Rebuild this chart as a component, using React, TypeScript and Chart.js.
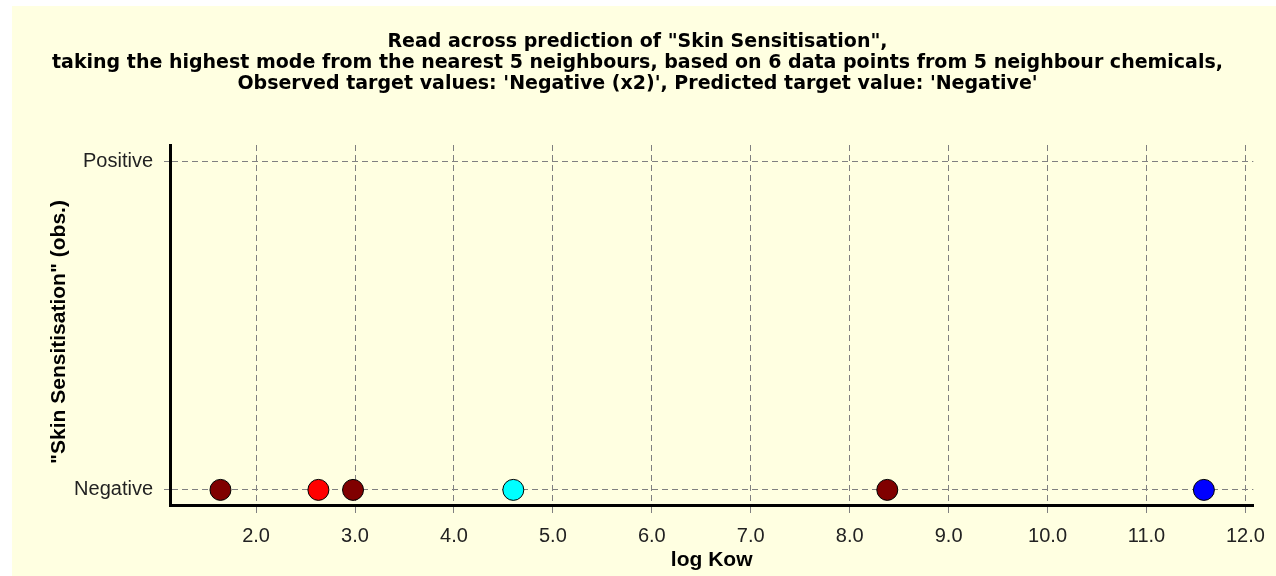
import React, { useEffect, useRef } from 'react';
import { Chart, registerables } from 'chart.js';

Chart.register(...registerables);

const titleLines = [
  'Read across prediction of "Skin Sensitisation",',
  'taking the highest mode from the nearest 5 neighbours, based on 6 data points from 5 neighbour chemicals,',
  "Observed target values: 'Negative (x2)', Predicted target value: 'Negative'",
];
const xAxisTitle = 'log Kow';
const yAxisTitle = '"Skin Sensitisation" (obs.)';
const yCategories = ['Negative', 'Positive'];
const xTickValues = [2, 3, 4, 5, 6, 7, 8, 9, 10, 11, 12];
const logKow = [1.64, 2.63, 2.98, 4.6, 8.38, 11.58];
const observedClass = [0, 0, 0, 0, 0, 0];
const pointColors = ['#800000', '#FF0000', '#800000', '#00FFFF', '#800000', '#0000FF'];

const W = 1264;
const H = 570;

const yTitlePlugin = {
  id: 'yTitleOffset',
  afterDraw(chart: any) {
    const { ctx, chartArea } = chart;
    ctx.save();
    ctx.translate(47.6, (chartArea.top + chartArea.bottom) / 2 + 7);
    ctx.rotate(-Math.PI / 2);
    ctx.textAlign = 'center';
    ctx.textBaseline = 'middle';
    ctx.fillStyle = '#000000';
    ctx.font = 'bold 21px "Liberation Sans"';
    ctx.fillText(yAxisTitle, 0, 0);
    ctx.restore();
  },
};

export default function App() {
  const ref = useRef<HTMLCanvasElement | null>(null);

  useEffect(() => {
    if (!ref.current) return;
    const gridColor = '#808080';
    const chart = new Chart(ref.current, {
      type: 'scatter',
      data: {
        datasets: [
          {
            data: logKow.map((x, i) => ({ x, y: observedClass[i] })),
            backgroundColor: pointColors,
            borderColor: '#000000',
            borderWidth: 1,
            pointRadius: 10.5,
            pointHoverRadius: 10.5,
          },
        ],
      },
      plugins: [yTitlePlugin],
      options: {
        responsive: false,
        animation: false,
        devicePixelRatio: 1,
        layout: { padding: { left: 0, right: 13, top: 0, bottom: 0 } },
        plugins: {
          legend: { display: false },
          tooltip: { enabled: false },
          title: {
            display: true,
            text: titleLines,
            color: '#000000',
            font: { family: 'DejaVu Sans', size: 19, weight: 'bold', lineHeight: 21 / 19 },
            padding: { top: 26, bottom: 50 },
          },
        },
        scales: {
          x: {
            type: 'linear',
            min: 1.13,
            max: 12.08,
            afterBuildTicks: (scale: any) => {
              scale.ticks = xTickValues.map((v) => ({ value: v }));
            },
            afterFit: (scale: any) => {
              scale.height = 71;
            },
            ticks: {
              color: '#222222',
              font: { family: 'Liberation Sans', size: 20 },
              padding: 11,
              maxRotation: 0,
              autoSkip: false,
              callback: (v: any) => Number(v).toFixed(1),
            },
            grid: {
              color: gridColor,
              lineWidth: 1,
              tickLength: 8,
              tickColor: gridColor,
              tickBorderDash: [],
            },
            border: { display: true, color: '#000000', width: 3, dash: [6, 4] },
            title: {
              display: true,
              text: xAxisTitle,
              color: '#000000',
              font: { family: 'Liberation Sans', size: 21, weight: 'bold' },
              padding: { top: 0, bottom: 3 },
            },
          },
          y: {
            type: 'linear',
            min: -0.046,
            max: 1.05,
            afterBuildTicks: (scale: any) => {
              scale.ticks = yCategories.map((_, i) => ({ value: i }));
            },
            afterFit: (scale: any) => {
              scale.width = 158;
            },
            ticks: {
              color: '#222222',
              font: { family: 'Liberation Sans', size: 20 },
              padding: 11,
              autoSkip: false,
              callback: (v: any) => yCategories[Math.round(Number(v))] ?? '',
            },
            grid: {
              color: gridColor,
              lineWidth: 1,
              tickLength: 6,
              tickColor: gridColor,
              tickBorderDash: [],
            },
            border: { display: true, color: '#000000', width: 3, dash: [6, 4] },
            title: { display: false },
          },
        },
      },
    } as any);
    return () => chart.destroy();
  }, []);

  return (
    <div
      style={{
        position: 'absolute',
        left: 12,
        top: 6,
        width: W,
        height: H,
        background: '#FFFFE1',
      }}
    >
      <canvas ref={ref} width={W} height={H} style={{ display: 'block', width: W, height: H }} />
    </div>
  );
}
